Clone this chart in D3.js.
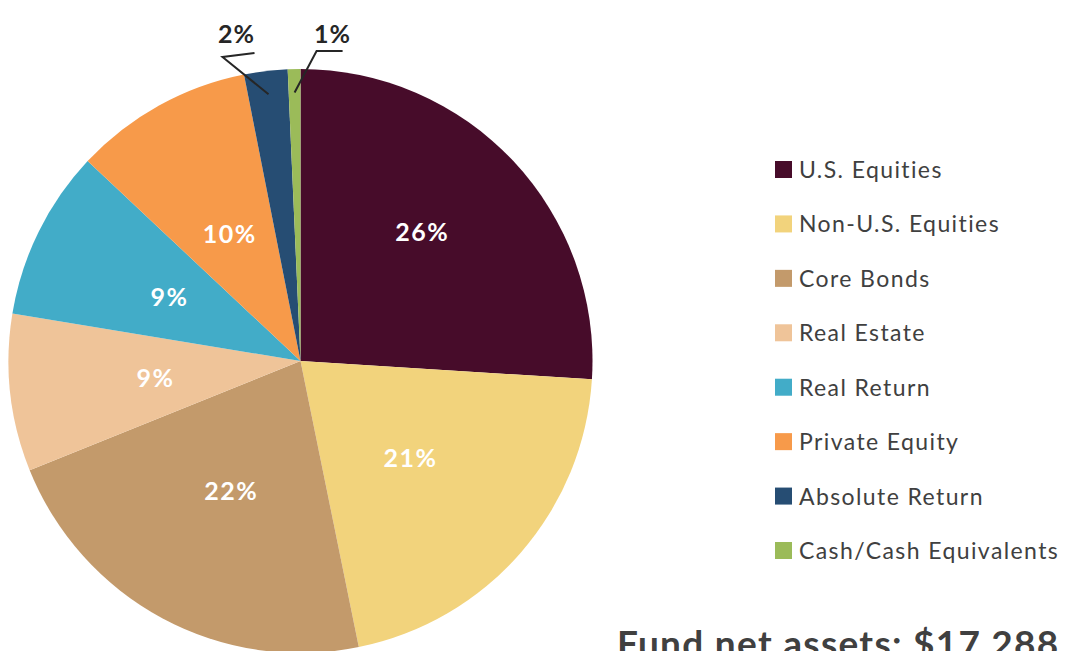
<!DOCTYPE html>
<html lang="en">
<head>
  <meta charset="UTF-8">
  <title>Asset Allocation</title>
  <style>
    body {
      margin: 0;
      overflow: hidden;
      background: #fff;
    }
    text {
      font-family: Lato, "Open Sans", sans-serif;
    }
    .legend text {
      fill: #404040;
      font-size: 23px;
      letter-spacing: 1.4px;
    }
    .slice-label {
      fill: #fff;
      font-size: 25px;
      font-weight: bold;
      letter-spacing: 1.5px;
    }
    .outer-label {
      fill: #262626;
      font-size: 25px;
      font-weight: bold;
      letter-spacing: 1px;
    }
    .leader {
      fill: none;
      stroke: #262626;
      stroke-width: 2px;
    }
  </style>
</head>
<body>
  <script src="https://d3js.org/d3.v7.min.js"></script>
  <script>
    const categories = ['U.S. Equities', 'Non-U.S. Equities', 'Core Bonds', 'Real Estate',
      'Real Return', 'Private Equity', 'Absolute Return', 'Cash/Cash Equivalents'];
    const shares = [26.0, 20.8, 22.1, 8.7, 9.4, 9.9, 2.4, 0.7];
    const colors = ['#470c2a', '#f2d37c', '#c39a6b', '#efc499', '#42acc8', '#f79a4a', '#264d73', '#9bbb59'];
    const title = 'Fund net assets: $17,288';

    const width = 1067;
    const height = 651;
    const cx = 300.5;
    const cy = 361;
    const radius = 292;

    const data = categories.map((name, i) => ({ name, value: shares[i], color: colors[i] }));

    const svg = d3.select('body').append('svg')
      .attr('width', width)
      .attr('height', height);

    const pie = d3.pie().value(d => d.value).sort(null);
    const arcs = pie(data);

    const arc = d3.arc().innerRadius(0).outerRadius(radius);
    const labelArc = d3.arc().innerRadius(radius * 0.5).outerRadius(radius * 0.5);
    // the largest slice's label sits further out, as in the original
    const wideArc = d3.arc().innerRadius(radius * 0.6).outerRadius(radius * 0.6);
    const pointArc = d3.arc().innerRadius(radius * 0.92).outerRadius(radius * 0.92);

    const g = svg.append('g').attr('transform', `translate(${cx},${cy})`);

    g.selectAll('path')
      .data(arcs)
      .enter().append('path')
      .attr('d', arc)
      .attr('fill', d => d.data.color);

    // big slices get their label inside
    g.selectAll('.slice-label')
      .data(arcs.filter(d => d.data.value >= 5))
      .enter().append('text')
      .attr('class', 'slice-label')
      .attr('transform', d => {
        const [x, y] = (d.data.value > 25 ? wideArc : labelArc).centroid(d);
        return d.data.value > 25 ? `translate(${x - 6},${y - 10})` : `translate(${x},${y})`;
      })
      .attr('text-anchor', 'middle')
      .attr('dominant-baseline', 'central')
      .text(d => Math.round(d.data.value) + '%');

    // small slices: leader line out to a label above the pie
    const small = arcs.filter(d => d.data.value < 5);

    small.forEach((d, i) => {
      const [sx, sy] = pointArc.centroid(d);
      const left = i === 0;
      const ex = sx + (left ? -46 : 22);
      const ey = -radius + (left ? -12 : -18);
      const hx = ex + (left ? 32 : 26);
      const hy = ey + (left ? -4 : 0);

      g.append('path')
        .attr('class', 'leader')
        .attr('d', d3.line()([[sx, sy], [ex, ey], [hx, hy]]));

      g.append('text')
        .attr('class', 'outer-label')
        .attr('x', ex + (left ? 14 : 16))
        .attr('y', -radius - 26)
        .attr('text-anchor', 'middle')
        .text(Math.round(d.data.value) + '%');
    });

    // legend
    const legendY = d3.scalePoint()
      .domain(categories)
      .range([169, 550]);

    const legend = svg.append('g').attr('class', 'legend');

    const item = legend.selectAll('g')
      .data(data)
      .enter().append('g')
      .attr('transform', d => `translate(775,${legendY(d.name)})`);

    item.append('rect')
      .attr('x', 0)
      .attr('y', -8)
      .attr('width', 17)
      .attr('height', 17)
      .attr('fill', d => d.color);

    item.append('text')
      .attr('x', 24)
      .attr('y', 0)
      .attr('dominant-baseline', 'central')
      .text(d => d.name);

    svg.append('text')
      .attr('x', 617)
      .attr('y', 657)
      .attr('fill', '#404040')
      .attr('font-size', 37)
      .attr('font-weight', 'bold')
      .attr('letter-spacing', 1.3)
      .text(title);
  </script>
</body>
</html>
